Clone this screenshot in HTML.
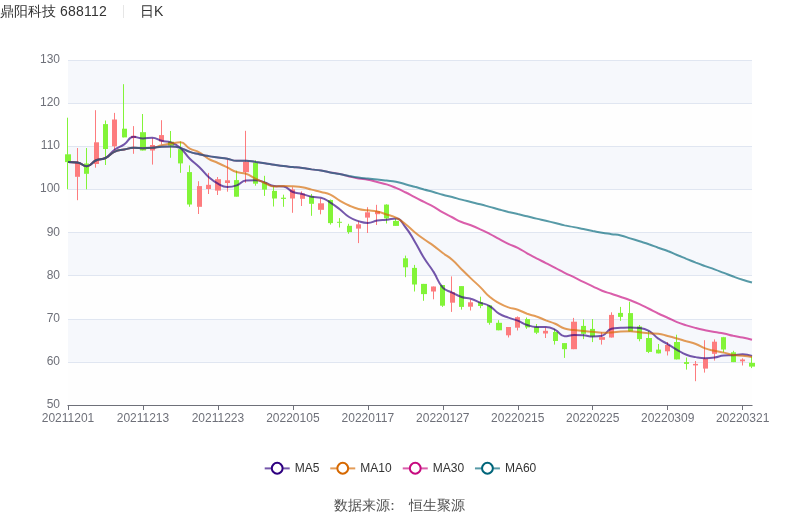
<!DOCTYPE html>
<html lang="zh"><head><meta charset="utf-8"><title>鼎阳科技 688112 日K</title>
<style>
html,body{margin:0;padding:0;background:#fff;}
body{width:800px;height:517px;overflow:hidden;position:relative;font-family:"Liberation Sans","WenQuanYi Zen Hei",sans-serif;}
svg{position:absolute;left:0;top:0;display:block;will-change:transform;}
text{font-family:"Liberation Sans","WenQuanYi Zen Hei",sans-serif;}
.ax{font-size:12px;fill:#6E7079;}
.lg{font-size:12px;fill:#333;}
.tt{font-size:14px;fill:#333;}
</style></head><body>
<svg width="800" height="517" viewBox="0 0 800 517">

<rect x="68.0" y="361.88" width="684.0" height="43.12" fill="rgba(250,250,250,0.2)"/>
<rect x="68.0" y="318.75" width="684.0" height="43.12" fill="rgba(210,219,238,0.2)"/>
<rect x="68.0" y="275.62" width="684.0" height="43.12" fill="rgba(250,250,250,0.2)"/>
<rect x="68.0" y="232.50" width="684.0" height="43.12" fill="rgba(210,219,238,0.2)"/>
<rect x="68.0" y="189.38" width="684.0" height="43.12" fill="rgba(250,250,250,0.2)"/>
<rect x="68.0" y="146.25" width="684.0" height="43.12" fill="rgba(210,219,238,0.2)"/>
<rect x="68.0" y="103.12" width="684.0" height="43.12" fill="rgba(250,250,250,0.2)"/>
<rect x="68.0" y="60.00" width="684.0" height="43.12" fill="rgba(210,219,238,0.2)"/>
<line x1="68.0" x2="752.0" y1="362.5" y2="362.5" stroke="#E0E6F1" stroke-width="1"/>
<line x1="68.0" x2="752.0" y1="319.5" y2="319.5" stroke="#E0E6F1" stroke-width="1"/>
<line x1="68.0" x2="752.0" y1="275.5" y2="275.5" stroke="#E0E6F1" stroke-width="1"/>
<line x1="68.0" x2="752.0" y1="232.5" y2="232.5" stroke="#E0E6F1" stroke-width="1"/>
<line x1="68.0" x2="752.0" y1="189.5" y2="189.5" stroke="#E0E6F1" stroke-width="1"/>
<line x1="68.0" x2="752.0" y1="146.5" y2="146.5" stroke="#E0E6F1" stroke-width="1"/>
<line x1="68.0" x2="752.0" y1="103.5" y2="103.5" stroke="#E0E6F1" stroke-width="1"/>
<line x1="68.0" x2="752.0" y1="60.5" y2="60.5" stroke="#E0E6F1" stroke-width="1"/>
<path d="M67.5,117.70V154.80M67.5,161.60V189.30" stroke="#82f438" stroke-width="1" fill="none"/>
<rect x="65.0" y="154.30" width="6.0" height="7.80" fill="#82f438"/>
<path d="M77.5,148.00V163.40M77.5,176.30V200.20" stroke="#fd7c7e" stroke-width="1" fill="none"/>
<rect x="75.0" y="162.90" width="5.0" height="13.90" fill="#fd7c7e"/>
<path d="M86.5,148.00V164.00M86.5,173.30V189.30" stroke="#82f438" stroke-width="1" fill="none"/>
<rect x="84.0" y="163.50" width="5.0" height="10.30" fill="#82f438"/>
<path d="M95.5,110.20V142.80M95.5,163.50V167.70" stroke="#fd7c7e" stroke-width="1" fill="none"/>
<rect x="94.0" y="142.30" width="5.0" height="21.70" fill="#fd7c7e"/>
<path d="M105.5,120.50V124.60M105.5,148.50V165.00" stroke="#82f438" stroke-width="1" fill="none"/>
<rect x="103.0" y="124.10" width="5.0" height="24.90" fill="#82f438"/>
<path d="M114.5,112.90V120.00M114.5,145.80V150.00" stroke="#fd7c7e" stroke-width="1" fill="none"/>
<rect x="112.0" y="119.50" width="5.0" height="26.80" fill="#fd7c7e"/>
<path d="M123.5,84.20V129.20M123.5,136.90V137.40" stroke="#82f438" stroke-width="1" fill="none"/>
<rect x="122.0" y="128.70" width="5.0" height="8.70" fill="#82f438"/>
<path d="M133.5,126.10V136.30M133.5,137.60V153.80" stroke="#fd7c7e" stroke-width="1" fill="none"/>
<rect x="131.0" y="135.80" width="5.0" height="2.30" fill="#fd7c7e"/>
<path d="M142.5,114.00V132.70M142.5,150.00V150.50" stroke="#82f438" stroke-width="1" fill="none"/>
<rect x="140.0" y="132.20" width="6.0" height="18.30" fill="#82f438"/>
<path d="M152.5,138.20V145.50M152.5,150.00V164.60" stroke="#fd7c7e" stroke-width="1" fill="none"/>
<rect x="150.0" y="145.00" width="5.0" height="5.50" fill="#fd7c7e"/>
<path d="M161.5,120.20V135.60M161.5,141.00V144.50" stroke="#fd7c7e" stroke-width="1" fill="none"/>
<rect x="159.0" y="135.10" width="5.0" height="6.40" fill="#fd7c7e"/>
<path d="M170.5,131.00V142.20M170.5,145.10V157.80" stroke="#82f438" stroke-width="1" fill="none"/>
<rect x="168.0" y="141.70" width="6.0" height="3.90" fill="#82f438"/>
<path d="M180.5,141.40V149.60M180.5,162.90V172.80" stroke="#82f438" stroke-width="1" fill="none"/>
<rect x="178.0" y="149.10" width="5.0" height="14.30" fill="#82f438"/>
<path d="M189.5,165.40V172.60M189.5,204.00V206.80" stroke="#82f438" stroke-width="1" fill="none"/>
<rect x="187.0" y="172.10" width="5.0" height="32.40" fill="#82f438"/>
<path d="M198.5,181.20V186.60M198.5,206.30V214.00" stroke="#fd7c7e" stroke-width="1" fill="none"/>
<rect x="197.0" y="186.10" width="5.0" height="20.70" fill="#fd7c7e"/>
<path d="M208.5,172.90V185.30M208.5,188.50V194.00" stroke="#fd7c7e" stroke-width="1" fill="none"/>
<rect x="206.0" y="184.80" width="5.0" height="4.20" fill="#fd7c7e"/>
<path d="M217.5,177.00V179.70M217.5,190.10V195.00" stroke="#fd7c7e" stroke-width="1" fill="none"/>
<rect x="215.0" y="179.20" width="6.0" height="11.40" fill="#fd7c7e"/>
<path d="M227.5,159.50V180.80M227.5,182.50V191.70" stroke="#fd7c7e" stroke-width="1" fill="none"/>
<rect x="225.0" y="180.30" width="5.0" height="2.70" fill="#fd7c7e"/>
<path d="M236.5,170.60V180.60M236.5,196.20V196.70" stroke="#82f438" stroke-width="1" fill="none"/>
<rect x="234.0" y="180.10" width="5.0" height="16.60" fill="#82f438"/>
<path d="M245.5,130.80V162.30M245.5,171.70V182.90" stroke="#fd7c7e" stroke-width="1" fill="none"/>
<rect x="243.0" y="161.80" width="6.0" height="10.40" fill="#fd7c7e"/>
<path d="M255.5,160.20V163.00M255.5,183.20V185.70" stroke="#82f438" stroke-width="1" fill="none"/>
<rect x="253.0" y="162.50" width="5.0" height="21.20" fill="#82f438"/>
<path d="M264.5,175.80V183.00M264.5,189.10V195.90" stroke="#82f438" stroke-width="1" fill="none"/>
<rect x="262.0" y="182.50" width="5.0" height="7.10" fill="#82f438"/>
<path d="M273.5,186.40V191.40M273.5,198.00V206.50" stroke="#82f438" stroke-width="1" fill="none"/>
<rect x="272.0" y="190.90" width="5.0" height="7.60" fill="#82f438"/>
<path d="M283.5,194.70V198.20M283.5,198.40V206.80" stroke="#82f438" stroke-width="1" fill="none"/>
<rect x="281.0" y="197.70" width="5.0" height="1.20" fill="#82f438"/>
<path d="M292.5,187.20V189.90M292.5,198.00V212.80" stroke="#fd7c7e" stroke-width="1" fill="none"/>
<rect x="290.0" y="189.40" width="5.0" height="9.10" fill="#fd7c7e"/>
<path d="M301.5,191.40V194.00M301.5,198.30V206.00" stroke="#fd7c7e" stroke-width="1" fill="none"/>
<rect x="300.0" y="193.50" width="5.0" height="5.30" fill="#fd7c7e"/>
<path d="M311.5,194.00V196.70M311.5,203.30V215.80" stroke="#82f438" stroke-width="1" fill="none"/>
<rect x="309.0" y="196.20" width="5.0" height="7.60" fill="#82f438"/>
<path d="M320.5,198.50V203.80M320.5,209.30V214.30" stroke="#fd7c7e" stroke-width="1" fill="none"/>
<rect x="318.0" y="203.30" width="6.0" height="6.50" fill="#fd7c7e"/>
<path d="M330.5,199.50V200.50M330.5,222.60V224.60" stroke="#82f438" stroke-width="1" fill="none"/>
<rect x="328.0" y="200.00" width="5.0" height="23.10" fill="#82f438"/>
<path d="M339.5,218.10V222.30M339.5,222.30V227.50" stroke="#82f438" stroke-width="1" fill="none"/>
<rect x="337.0" y="221.80" width="5.0" height="1.00" fill="#82f438"/>
<path d="M348.5,223.80V226.30M348.5,231.60V233.80" stroke="#82f438" stroke-width="1" fill="none"/>
<rect x="347.0" y="225.80" width="5.0" height="6.30" fill="#82f438"/>
<path d="M358.5,221.40V224.80M358.5,228.10V243.10" stroke="#fd7c7e" stroke-width="1" fill="none"/>
<rect x="356.0" y="224.30" width="5.0" height="4.30" fill="#fd7c7e"/>
<path d="M367.5,207.20V212.80M367.5,217.10V233.00" stroke="#fd7c7e" stroke-width="1" fill="none"/>
<rect x="365.0" y="212.30" width="5.0" height="5.30" fill="#fd7c7e"/>
<path d="M376.5,204.80V211.60M376.5,213.70V225.00" stroke="#fd7c7e" stroke-width="1" fill="none"/>
<rect x="375.0" y="211.10" width="5.0" height="3.10" fill="#fd7c7e"/>
<path d="M386.5,204.30V205.10M386.5,217.90V223.50" stroke="#82f438" stroke-width="1" fill="none"/>
<rect x="384.0" y="204.60" width="5.0" height="13.80" fill="#82f438"/>
<path d="M395.5,218.70V221.40M395.5,225.40V225.90" stroke="#82f438" stroke-width="1" fill="none"/>
<rect x="393.0" y="220.90" width="6.0" height="5.00" fill="#82f438"/>
<path d="M405.5,255.60V258.80M405.5,266.80V277.20" stroke="#82f438" stroke-width="1" fill="none"/>
<rect x="403.0" y="258.30" width="5.0" height="9.00" fill="#82f438"/>
<path d="M414.5,264.90V268.40M414.5,284.00V291.50" stroke="#82f438" stroke-width="1" fill="none"/>
<rect x="412.0" y="267.90" width="5.0" height="16.60" fill="#82f438"/>
<path d="M423.5,283.90V284.40M423.5,293.60V300.80" stroke="#82f438" stroke-width="1" fill="none"/>
<rect x="421.0" y="283.90" width="6.0" height="10.20" fill="#82f438"/>
<path d="M433.5,286.50V287.00M433.5,291.00V299.30" stroke="#fd7c7e" stroke-width="1" fill="none"/>
<rect x="431.0" y="286.50" width="5.0" height="5.00" fill="#fd7c7e"/>
<path d="M442.5,285.00V285.50M442.5,305.20V306.90" stroke="#82f438" stroke-width="1" fill="none"/>
<rect x="440.0" y="285.00" width="5.0" height="20.70" fill="#82f438"/>
<path d="M451.5,276.40V292.60M451.5,302.20V311.90" stroke="#fd7c7e" stroke-width="1" fill="none"/>
<rect x="450.0" y="292.10" width="5.0" height="10.60" fill="#fd7c7e"/>
<path d="M461.5,286.10V286.60M461.5,306.40V309.60" stroke="#82f438" stroke-width="1" fill="none"/>
<rect x="459.0" y="286.10" width="5.0" height="20.80" fill="#82f438"/>
<path d="M470.5,299.60V302.80M470.5,306.20V310.50" stroke="#fd7c7e" stroke-width="1" fill="none"/>
<rect x="468.0" y="302.30" width="5.0" height="4.40" fill="#fd7c7e"/>
<path d="M480.5,296.70V302.70M480.5,305.50V308.20" stroke="#82f438" stroke-width="1" fill="none"/>
<rect x="478.0" y="302.20" width="5.0" height="3.80" fill="#82f438"/>
<path d="M489.5,305.40V305.90M489.5,322.30V324.70" stroke="#82f438" stroke-width="1" fill="none"/>
<rect x="487.0" y="305.40" width="5.0" height="17.40" fill="#82f438"/>
<path d="M498.5,320.20V323.30M498.5,329.80V330.30" stroke="#82f438" stroke-width="1" fill="none"/>
<rect x="496.0" y="322.80" width="6.0" height="7.50" fill="#82f438"/>
<path d="M508.5,327.00V327.50M508.5,334.80V337.50" stroke="#fd7c7e" stroke-width="1" fill="none"/>
<rect x="506.0" y="327.00" width="5.0" height="8.30" fill="#fd7c7e"/>
<path d="M517.5,316.40V317.70M517.5,327.20V330.50" stroke="#fd7c7e" stroke-width="1" fill="none"/>
<rect x="515.0" y="317.20" width="5.0" height="10.50" fill="#fd7c7e"/>
<path d="M526.5,317.50V319.60M526.5,326.90V328.90" stroke="#82f438" stroke-width="1" fill="none"/>
<rect x="525.0" y="319.10" width="5.0" height="8.30" fill="#82f438"/>
<path d="M536.5,324.00V327.50M536.5,332.20V334.10" stroke="#82f438" stroke-width="1" fill="none"/>
<rect x="534.0" y="327.00" width="5.0" height="5.70" fill="#82f438"/>
<path d="M545.5,327.70V331.30M545.5,333.00V338.00" stroke="#fd7c7e" stroke-width="1" fill="none"/>
<rect x="543.0" y="330.80" width="5.0" height="2.70" fill="#fd7c7e"/>
<path d="M554.5,328.90V332.50M554.5,340.50V344.60" stroke="#82f438" stroke-width="1" fill="none"/>
<rect x="553.0" y="332.00" width="5.0" height="9.00" fill="#82f438"/>
<path d="M564.5,343.10V343.60M564.5,348.70V357.90" stroke="#82f438" stroke-width="1" fill="none"/>
<rect x="562.0" y="343.10" width="5.0" height="6.10" fill="#82f438"/>
<path d="M573.5,317.90V322.20M573.5,348.70V349.20" stroke="#fd7c7e" stroke-width="1" fill="none"/>
<rect x="571.0" y="321.70" width="6.0" height="27.50" fill="#fd7c7e"/>
<path d="M583.5,319.40V326.40M583.5,333.30V339.10" stroke="#82f438" stroke-width="1" fill="none"/>
<rect x="581.0" y="325.90" width="5.0" height="7.90" fill="#82f438"/>
<path d="M592.5,319.00V329.40M592.5,336.00V342.10" stroke="#82f438" stroke-width="1" fill="none"/>
<rect x="590.0" y="328.90" width="5.0" height="7.60" fill="#82f438"/>
<path d="M601.5,332.30V337.60M601.5,339.30V344.60" stroke="#fd7c7e" stroke-width="1" fill="none"/>
<rect x="599.0" y="337.10" width="6.0" height="2.70" fill="#fd7c7e"/>
<path d="M611.5,312.30V315.40M611.5,337.00V337.50" stroke="#fd7c7e" stroke-width="1" fill="none"/>
<rect x="609.0" y="314.90" width="5.0" height="22.60" fill="#fd7c7e"/>
<path d="M620.5,306.90V313.40M620.5,316.40V320.90" stroke="#82f438" stroke-width="1" fill="none"/>
<rect x="618.0" y="312.90" width="5.0" height="4.00" fill="#82f438"/>
<path d="M629.5,301.80V313.60M629.5,331.00V331.50" stroke="#82f438" stroke-width="1" fill="none"/>
<rect x="628.0" y="313.10" width="5.0" height="18.40" fill="#82f438"/>
<path d="M639.5,325.00V327.00M639.5,338.60V341.30" stroke="#82f438" stroke-width="1" fill="none"/>
<rect x="637.0" y="326.50" width="5.0" height="12.60" fill="#82f438"/>
<path d="M648.5,331.10V338.50M648.5,351.40V353.10" stroke="#82f438" stroke-width="1" fill="none"/>
<rect x="646.0" y="338.00" width="6.0" height="13.90" fill="#82f438"/>
<path d="M658.5,344.00V350.10M658.5,352.90V353.40" stroke="#82f438" stroke-width="1" fill="none"/>
<rect x="656.0" y="349.60" width="5.0" height="3.80" fill="#82f438"/>
<path d="M667.5,342.00V345.50M667.5,350.80V355.50" stroke="#fd7c7e" stroke-width="1" fill="none"/>
<rect x="665.0" y="345.00" width="5.0" height="6.30" fill="#fd7c7e"/>
<path d="M676.5,334.70V342.50M676.5,358.90V359.40" stroke="#82f438" stroke-width="1" fill="none"/>
<rect x="674.0" y="342.00" width="6.0" height="17.40" fill="#82f438"/>
<path d="M686.5,357.50V362.60M686.5,363.40V369.60" stroke="#82f438" stroke-width="1" fill="none"/>
<rect x="684.0" y="362.10" width="5.0" height="1.80" fill="#82f438"/>
<path d="M695.5,361.00V364.40M695.5,364.90V381.20" stroke="#fd7c7e" stroke-width="1" fill="none"/>
<rect x="693.0" y="363.90" width="5.0" height="1.50" fill="#fd7c7e"/>
<path d="M704.5,340.20V359.10M704.5,368.10V372.60" stroke="#fd7c7e" stroke-width="1" fill="none"/>
<rect x="703.0" y="358.60" width="5.0" height="10.00" fill="#fd7c7e"/>
<path d="M714.5,339.40V342.20M714.5,353.30V360.60" stroke="#fd7c7e" stroke-width="1" fill="none"/>
<rect x="712.0" y="341.70" width="5.0" height="12.10" fill="#fd7c7e"/>
<path d="M723.5,336.90V337.70M723.5,349.00V352.30" stroke="#82f438" stroke-width="1" fill="none"/>
<rect x="721.0" y="337.20" width="5.0" height="12.30" fill="#82f438"/>
<path d="M733.5,350.80V352.80M733.5,361.60V362.10" stroke="#82f438" stroke-width="1" fill="none"/>
<rect x="731.0" y="352.30" width="5.0" height="9.80" fill="#82f438"/>
<path d="M742.5,358.30V360.00M742.5,360.80V365.50" stroke="#fd7c7e" stroke-width="1" fill="none"/>
<rect x="740.0" y="359.50" width="5.0" height="1.80" fill="#fd7c7e"/>
<path d="M751.5,356.50V363.30M751.5,366.10V368.10" stroke="#82f438" stroke-width="1" fill="none"/>
<rect x="749.0" y="362.80" width="6.0" height="3.80" fill="#82f438"/>
<path d="M68.00,162.10C68.00,162.10 72.86,162.10 77.37,162.50C82.23,162.93 82.28,166.27 86.74,166.27C91.65,166.27 91.09,162.48 96.11,160.28C100.46,158.36 101.43,160.28 105.48,158.02C110.80,155.06 109.76,153.20 114.85,149.50C119.13,146.39 119.82,147.38 124.22,144.40C129.19,141.03 128.35,136.80 133.59,136.80C137.72,136.80 138.25,138.44 142.96,138.44C147.62,138.44 147.76,137.64 152.33,137.64C157.13,137.64 156.93,139.55 161.70,140.76C166.30,141.93 166.70,140.76 171.07,142.40C176.07,144.27 176.39,144.39 180.44,147.92C185.76,152.55 184.80,153.64 189.81,158.72C194.17,163.15 194.71,162.61 199.18,166.94C204.08,171.69 203.47,172.36 208.55,176.88C212.84,180.69 212.89,180.89 217.92,183.60C222.26,185.94 222.49,186.98 227.29,186.98C231.86,186.98 232.22,186.94 236.66,185.42C241.59,183.73 241.06,180.81 246.03,180.56C250.43,180.34 250.77,180.34 255.40,180.34C260.14,180.34 260.19,181.02 264.77,182.42C269.56,183.88 269.29,185.59 274.14,186.06C278.66,186.50 279.17,186.06 283.51,186.50C288.54,187.01 287.89,190.03 292.88,192.02C297.26,193.77 297.61,192.79 302.25,193.98C306.98,195.19 306.84,195.85 311.62,196.82C316.21,197.75 316.57,196.82 320.99,197.78C325.94,198.85 325.88,199.87 330.36,202.62C335.25,205.63 335.17,205.80 339.73,209.30C344.54,213.00 344.01,213.81 349.10,217.02C353.38,219.72 353.62,219.59 358.47,221.12C362.99,222.54 363.18,222.92 367.84,222.92C372.55,222.92 372.46,221.35 377.21,220.52C381.83,219.71 381.90,220.17 386.58,219.64C391.27,219.11 391.95,218.40 395.95,218.40C401.32,218.40 401.33,222.11 405.32,227.00C410.70,233.63 410.24,234.08 414.68,241.44C419.61,249.60 419.04,249.95 424.05,258.04C428.41,265.06 429.00,264.68 433.42,271.66C438.37,279.47 436.84,280.97 442.79,287.62C446.21,291.43 447.43,290.20 452.16,292.58C456.80,294.92 456.64,295.46 461.53,297.06C466.01,298.52 466.37,297.36 470.90,298.70C475.74,300.13 475.55,300.75 480.27,302.60C484.92,304.41 485.41,303.52 489.64,306.02C494.78,309.05 493.93,310.50 499.01,313.66C503.30,316.33 503.61,315.90 508.38,317.68C512.98,319.40 513.18,318.89 517.75,320.66C522.55,322.52 522.27,323.32 527.12,324.94C531.64,326.45 531.76,326.82 536.49,326.92C541.13,327.02 541.28,326.92 545.86,327.02C550.65,327.12 550.90,327.69 555.23,329.82C560.27,332.29 559.49,336.22 564.60,336.22C568.86,336.22 569.27,335.08 573.97,335.08C578.64,335.08 578.67,335.08 583.34,335.30C588.04,335.52 588.02,336.44 592.71,336.44C597.39,336.44 597.89,336.44 602.08,335.66C607.26,334.70 606.28,329.98 611.45,328.80C615.65,327.84 616.13,328.20 620.82,327.84C625.50,327.49 625.51,327.38 630.19,327.38C634.88,327.38 634.98,327.38 639.56,327.90C644.35,328.44 644.74,328.47 648.93,330.86C654.11,333.80 653.37,335.06 658.30,338.56C662.74,341.72 662.98,341.38 667.67,344.18C672.35,346.98 672.29,347.09 677.04,349.76C681.66,352.36 681.51,352.80 686.41,354.72C690.88,356.48 691.04,356.25 695.78,357.12C700.41,357.97 700.46,358.16 705.15,358.16C709.83,358.16 709.88,358.15 714.52,357.50C719.25,356.83 719.16,355.89 723.89,355.52C728.53,355.16 728.58,355.47 733.26,355.16C737.95,354.85 737.97,354.28 742.63,354.28C747.34,354.28 752.00,355.88 752.00,355.88" fill="none" stroke="#2e0080" stroke-opacity="0.66" stroke-width="2" stroke-linejoin="bevel"/>
<path d="M68.00,162.10C68.00,162.10 72.86,162.10 77.37,162.50C82.23,162.93 82.28,166.27 86.74,166.27C91.65,166.27 91.09,162.48 96.11,160.28C100.46,158.36 101.18,160.01 105.48,158.02C110.55,155.67 109.77,153.89 114.85,151.60C119.14,149.67 119.52,150.51 124.22,149.57C128.89,148.64 128.87,147.85 133.59,147.85C138.24,147.85 138.27,148.14 142.96,148.14C147.64,148.14 147.74,148.14 152.33,147.83C157.11,147.50 156.96,146.25 161.70,145.13C166.33,144.04 166.36,144.10 171.07,143.40C175.73,142.71 176.17,142.36 180.44,142.36C185.54,142.36 184.87,145.96 189.81,148.58C194.24,150.93 194.79,149.89 199.18,152.29C204.16,155.01 203.61,156.00 208.55,158.82C212.98,161.35 213.26,160.85 217.92,163.00C222.63,165.17 222.62,165.19 227.29,167.45C231.99,169.73 231.75,170.42 236.66,172.07C241.12,173.57 241.58,172.20 246.03,173.75C250.95,175.47 250.67,176.27 255.40,178.61C260.04,180.90 260.00,181.00 264.77,183.01C269.37,184.95 269.30,186.52 274.14,186.52C278.67,186.52 278.82,185.96 283.51,185.96C288.19,185.96 288.20,185.99 292.88,186.29C297.57,186.59 297.63,186.34 302.25,187.16C307.00,188.00 306.92,188.43 311.62,189.62C316.29,190.81 316.32,190.69 320.99,191.92C325.69,193.16 326.00,192.53 330.36,194.56C335.36,196.90 334.90,197.85 339.73,200.66C344.27,203.32 344.28,203.37 349.10,205.50C353.65,207.52 353.66,207.73 358.47,208.97C363.03,210.15 363.15,209.70 367.84,210.35C372.52,211.00 372.61,210.56 377.21,211.57C381.98,212.62 381.92,212.94 386.58,214.47C391.29,216.01 391.57,215.47 395.95,217.71C400.94,220.27 400.84,220.61 405.32,224.06C410.21,227.84 409.88,228.27 414.68,232.18C419.25,235.88 419.28,235.85 424.05,239.28C428.65,242.59 428.86,242.30 433.42,245.65C438.23,249.17 438.04,249.42 442.79,253.01C447.41,256.49 447.81,256.02 452.16,259.79C457.18,264.14 456.81,264.56 461.53,269.25C466.18,273.85 466.17,273.86 470.90,278.37C475.54,282.80 475.71,282.63 480.27,287.13C485.08,291.86 484.55,292.47 489.64,296.82C493.91,300.46 494.11,300.36 499.01,303.12C503.48,305.64 503.55,305.68 508.38,307.37C512.92,308.96 513.20,308.13 517.75,309.68C522.57,311.33 522.33,312.03 527.12,313.77C531.70,315.43 531.90,314.86 536.49,316.47C541.27,318.14 541.14,318.50 545.86,320.34C550.51,322.14 550.66,321.78 555.23,323.75C560.03,325.83 559.69,326.80 564.60,328.44C569.06,329.93 569.27,329.34 573.97,330.01C578.64,330.68 578.65,330.68 583.34,331.11C588.02,331.54 588.04,331.32 592.71,331.73C597.41,332.14 597.38,332.74 602.08,332.74C606.75,332.74 606.78,332.74 611.45,332.51C616.15,332.28 616.12,331.58 620.82,331.46C625.49,331.34 625.52,331.34 630.19,331.34C634.89,331.34 634.88,331.69 639.56,332.17C644.25,332.65 644.23,332.88 648.93,333.26C653.60,333.64 653.68,333.26 658.30,333.68C663.05,334.11 663.00,334.79 667.67,336.01C672.37,337.24 672.37,337.25 677.04,338.57C681.74,339.90 681.72,339.95 686.41,341.31C691.09,342.66 691.23,342.28 695.78,343.99C700.60,345.80 700.31,346.59 705.15,348.36C709.68,350.02 709.80,349.76 714.52,350.84C719.17,351.90 719.23,351.62 723.89,352.64C728.60,353.67 728.51,354.17 733.26,354.94C737.88,355.70 737.96,355.18 742.63,355.70C747.33,356.22 752.00,357.02 752.00,357.02" fill="none" stroke="#d66800" stroke-opacity="0.66" stroke-width="2" stroke-linejoin="bevel"/>
<path d="M68.00,162.10C68.00,162.10 72.86,162.10 77.37,162.50C82.23,162.93 82.28,166.27 86.74,166.27C91.65,166.27 91.09,162.48 96.11,160.28C100.46,158.36 101.18,160.01 105.48,158.02C110.55,155.67 109.77,153.89 114.85,151.60C119.14,149.67 119.52,150.51 124.22,149.57C128.89,148.64 128.87,147.85 133.59,147.85C138.24,147.85 138.27,148.14 142.96,148.14C147.64,148.14 147.66,148.14 152.33,147.83C157.03,147.51 157.00,146.76 161.70,146.67C166.37,146.58 166.41,146.58 171.07,146.58C175.78,146.58 175.93,146.59 180.44,147.88C185.30,149.26 184.99,150.30 189.81,151.92C194.36,153.46 194.47,153.15 199.18,154.20C203.84,155.24 203.84,155.29 208.55,156.11C213.21,156.93 213.23,156.81 217.92,157.47C222.60,158.13 222.63,157.93 227.29,158.74C232.00,159.56 231.92,160.68 236.66,160.74C241.29,160.79 241.36,160.74 246.03,160.79C250.73,160.84 250.72,161.29 255.40,161.88C260.09,162.47 260.09,162.44 264.77,163.14C269.46,163.84 269.45,163.94 274.14,164.68C278.82,165.42 278.81,165.51 283.51,166.10C288.18,166.69 288.19,166.55 292.88,167.04C297.56,167.52 297.57,167.47 302.25,168.05C306.94,168.64 306.93,168.74 311.62,169.38C316.30,170.01 316.32,169.84 320.99,170.59C325.69,171.35 325.67,171.53 330.36,172.40C335.04,173.27 335.07,173.08 339.73,174.08C344.44,175.09 344.40,175.31 349.10,176.41C353.76,177.50 353.75,177.62 358.47,178.46C363.12,179.29 363.20,178.86 367.84,179.74C372.57,180.65 372.52,180.89 377.21,182.04C381.89,183.19 381.98,182.91 386.58,184.35C391.35,185.84 391.33,185.96 395.95,187.90C400.70,189.90 400.69,189.94 405.32,192.23C410.06,194.58 409.98,194.74 414.68,197.18C419.35,199.61 419.36,199.59 424.05,201.97C428.73,204.34 428.84,204.14 433.42,206.69C438.21,209.34 438.02,209.68 442.79,212.37C447.39,214.97 447.47,214.83 452.16,217.26C456.84,219.67 456.71,219.97 461.53,222.04C466.08,223.99 466.28,223.51 470.90,225.30C475.65,227.14 475.65,227.17 480.27,229.30C485.02,231.47 485.00,231.51 489.64,233.90C494.37,236.33 494.31,236.44 499.01,238.93C503.68,241.41 503.61,241.56 508.38,243.82C512.98,246.01 513.22,245.53 517.75,247.84C522.59,250.30 522.38,250.71 527.12,253.36C531.75,255.95 531.78,255.89 536.49,258.33C541.15,260.73 541.18,260.67 545.86,263.03C550.55,265.40 550.57,265.36 555.23,267.78C559.94,270.24 559.86,270.41 564.60,272.79C569.23,275.12 569.31,274.94 573.97,277.20C578.68,279.49 578.63,279.59 583.34,281.88C588.00,284.14 588.03,284.08 592.71,286.30C597.40,288.53 597.28,288.83 602.08,290.76C606.65,292.59 606.77,292.28 611.45,293.82C616.14,295.37 616.15,295.35 620.82,296.96C625.52,298.58 625.55,298.50 630.19,300.27C634.92,302.07 634.95,302.02 639.56,304.10C644.32,306.26 644.26,306.41 648.93,308.75C653.63,311.11 653.57,311.23 658.30,313.50C662.94,315.71 663.01,315.56 667.67,317.72C672.38,319.89 672.25,320.21 677.04,322.17C681.62,324.04 681.69,323.91 686.41,325.39C691.06,326.84 691.07,326.83 695.78,328.03C700.44,329.22 700.45,329.18 705.15,330.18C709.82,331.18 709.82,331.20 714.52,332.02C719.19,332.85 719.25,332.54 723.89,333.48C728.62,334.44 728.55,334.79 733.26,335.82C737.92,336.83 737.96,336.60 742.63,337.57C747.33,338.55 752.00,339.71 752.00,339.71" fill="none" stroke="#c70a7f" stroke-opacity="0.66" stroke-width="2" stroke-linejoin="bevel"/>
<path d="M68.00,162.10C68.00,162.10 72.86,162.10 77.37,162.50C82.23,162.93 82.28,166.27 86.74,166.27C91.65,166.27 91.09,162.48 96.11,160.28C100.46,158.36 101.18,160.01 105.48,158.02C110.55,155.67 109.77,153.89 114.85,151.60C119.14,149.67 119.52,150.51 124.22,149.57C128.89,148.64 128.87,147.85 133.59,147.85C138.24,147.85 138.27,148.14 142.96,148.14C147.64,148.14 147.66,148.14 152.33,147.83C157.03,147.51 157.00,146.76 161.70,146.67C166.37,146.58 166.41,146.58 171.07,146.58C175.78,146.58 175.93,146.59 180.44,147.88C185.30,149.26 184.99,150.30 189.81,151.92C194.36,153.46 194.47,153.15 199.18,154.20C203.84,155.24 203.84,155.29 208.55,156.11C213.21,156.93 213.23,156.81 217.92,157.47C222.60,158.13 222.63,157.93 227.29,158.74C232.00,159.56 231.92,160.68 236.66,160.74C241.29,160.79 241.36,160.74 246.03,160.79C250.73,160.84 250.72,161.29 255.40,161.88C260.09,162.47 260.09,162.44 264.77,163.14C269.46,163.84 269.45,163.94 274.14,164.68C278.82,165.42 278.81,165.51 283.51,166.10C288.18,166.69 288.19,166.55 292.88,167.04C297.56,167.52 297.57,167.47 302.25,168.05C306.94,168.64 306.93,168.74 311.62,169.38C316.30,170.01 316.32,169.84 320.99,170.59C325.69,171.35 325.67,171.53 330.36,172.40C335.04,173.27 335.05,173.19 339.73,174.08C344.42,174.97 344.40,175.10 349.10,175.95C353.77,176.79 353.77,176.82 358.47,177.46C363.14,178.10 363.15,178.01 367.84,178.52C372.52,179.02 372.52,178.96 377.21,179.48C381.89,179.99 381.89,180.00 386.58,180.59C391.26,181.18 391.31,180.96 395.95,181.85C400.68,182.75 400.65,182.92 405.32,184.16C410.02,185.40 410.01,185.45 414.68,186.80C419.38,188.15 419.35,188.25 424.05,189.55C428.72,190.84 428.76,190.68 433.42,191.97C438.13,193.28 438.08,193.47 442.79,194.75C447.45,196.01 447.49,195.85 452.16,197.06C456.86,198.29 456.84,198.39 461.53,199.62C466.21,200.84 466.22,200.79 470.90,201.95C475.59,203.11 475.61,203.05 480.27,204.26C484.98,205.49 484.96,205.54 489.64,206.84C494.33,208.14 494.32,208.20 499.01,209.47C503.69,210.73 503.68,210.76 508.38,211.92C513.05,213.06 513.08,212.96 517.75,214.07C522.44,215.17 522.44,215.20 527.12,216.33C531.81,217.47 531.80,217.50 536.49,218.61C541.17,219.72 541.18,219.67 545.86,220.77C550.55,221.88 550.55,221.89 555.23,223.04C559.92,224.19 559.89,224.35 564.60,225.38C569.26,226.39 569.29,226.21 573.97,227.13C578.66,228.04 578.66,228.08 583.34,229.03C588.03,229.98 588.02,229.99 592.71,230.92C597.39,231.85 597.38,231.94 602.08,232.75C606.75,233.55 606.77,233.45 611.45,234.14C616.14,234.83 616.21,234.49 620.82,235.52C625.58,236.59 625.51,236.91 630.19,238.34C634.88,239.79 634.88,239.80 639.56,241.28C644.25,242.76 644.29,242.64 648.93,244.25C653.66,245.88 653.60,246.06 658.30,247.77C662.97,249.46 663.05,249.24 667.67,251.03C672.42,252.87 672.34,253.08 677.04,255.03C681.71,256.97 681.73,256.91 686.41,258.81C691.10,260.70 691.07,260.78 695.78,262.61C700.44,264.41 700.45,264.38 705.15,266.08C709.82,267.76 709.86,267.65 714.52,269.35C719.23,271.08 719.21,271.13 723.89,272.93C728.58,274.72 728.55,274.81 733.26,276.54C737.92,278.25 737.90,278.30 742.63,279.81C747.27,281.28 752.00,282.51 752.00,282.51" fill="none" stroke="#00657a" stroke-opacity="0.66" stroke-width="2" stroke-linejoin="bevel"/>
<line x1="67.5" x2="752.5" y1="405.5" y2="405.5" stroke="#6E7079" stroke-width="1"/>
<line x1="68.5" x2="68.5" y1="405" y2="410" stroke="#6E7079" stroke-width="1"/>
<text class="ax" x="68.00" y="421.5" text-anchor="middle">20211201</text>
<line x1="143.5" x2="143.5" y1="405" y2="410" stroke="#6E7079" stroke-width="1"/>
<text class="ax" x="142.96" y="421.5" text-anchor="middle">20211213</text>
<line x1="218.5" x2="218.5" y1="405" y2="410" stroke="#6E7079" stroke-width="1"/>
<text class="ax" x="217.92" y="421.5" text-anchor="middle">20211223</text>
<line x1="293.5" x2="293.5" y1="405" y2="410" stroke="#6E7079" stroke-width="1"/>
<text class="ax" x="292.88" y="421.5" text-anchor="middle">20220105</text>
<line x1="368.5" x2="368.5" y1="405" y2="410" stroke="#6E7079" stroke-width="1"/>
<text class="ax" x="367.84" y="421.5" text-anchor="middle">20220117</text>
<line x1="443.5" x2="443.5" y1="405" y2="410" stroke="#6E7079" stroke-width="1"/>
<text class="ax" x="442.79" y="421.5" text-anchor="middle">20220127</text>
<line x1="518.5" x2="518.5" y1="405" y2="410" stroke="#6E7079" stroke-width="1"/>
<text class="ax" x="517.75" y="421.5" text-anchor="middle">20220215</text>
<line x1="592.5" x2="592.5" y1="405" y2="410" stroke="#6E7079" stroke-width="1"/>
<text class="ax" x="592.71" y="421.5" text-anchor="middle">20220225</text>
<line x1="667.5" x2="667.5" y1="405" y2="410" stroke="#6E7079" stroke-width="1"/>
<text class="ax" x="667.67" y="421.5" text-anchor="middle">20220309</text>
<line x1="742.5" x2="742.5" y1="405" y2="410" stroke="#6E7079" stroke-width="1"/>
<text class="ax" x="742.63" y="421.5" text-anchor="middle">20220321</text>
<text class="ax" x="60" y="408.00" text-anchor="end">50</text>
<text class="ax" x="60" y="364.88" text-anchor="end">60</text>
<text class="ax" x="60" y="321.75" text-anchor="end">70</text>
<text class="ax" x="60" y="278.62" text-anchor="end">80</text>
<text class="ax" x="60" y="235.50" text-anchor="end">90</text>
<text class="ax" x="60" y="192.38" text-anchor="end">100</text>
<text class="ax" x="60" y="149.25" text-anchor="end">110</text>
<text class="ax" x="60" y="106.12" text-anchor="end">120</text>
<text class="ax" x="60" y="63.00" text-anchor="end">130</text>
<text class="tt" x="0" y="16">鼎阳科技 <tspan letter-spacing="0.22">688112</tspan></text>
<line x1="123.5" x2="123.5" y1="5" y2="18" stroke="#e6e6e6" stroke-width="1"/>
<text class="tt" x="140" y="16">日K</text>
<line x1="264.7" x2="289.7" y1="468.4" y2="468.4" stroke="#2e0080" stroke-opacity="0.66" stroke-width="2"/>
<circle cx="277.2" cy="468.25" r="5.4" fill="#fff" stroke="#2e0080" stroke-width="2"/>
<text class="lg" x="294.7" y="472.25">MA5</text>
<line x1="330.25" x2="355.25" y1="468.4" y2="468.4" stroke="#d66800" stroke-opacity="0.66" stroke-width="2"/>
<circle cx="342.75" cy="468.25" r="5.4" fill="#fff" stroke="#d66800" stroke-width="2"/>
<text class="lg" x="360.25" y="472.25">MA10</text>
<line x1="402.75" x2="427.75" y1="468.4" y2="468.4" stroke="#c70a7f" stroke-opacity="0.66" stroke-width="2"/>
<circle cx="415.25" cy="468.25" r="5.4" fill="#fff" stroke="#c70a7f" stroke-width="2"/>
<text class="lg" x="432.75" y="472.25">MA30</text>
<line x1="474.95" x2="499.95" y1="468.4" y2="468.4" stroke="#00657a" stroke-opacity="0.66" stroke-width="2"/>
<circle cx="487.45" cy="468.25" r="5.4" fill="#fff" stroke="#00657a" stroke-width="2"/>
<text class="lg" x="504.95" y="472.25">MA60</text>
<text x="334" y="510" font-size="14" fill="#505050">数据来源<tspan dx="-4.4">：</tspan><tspan dx="5.4"> 恒生聚源</tspan></text>
</svg></body></html>
